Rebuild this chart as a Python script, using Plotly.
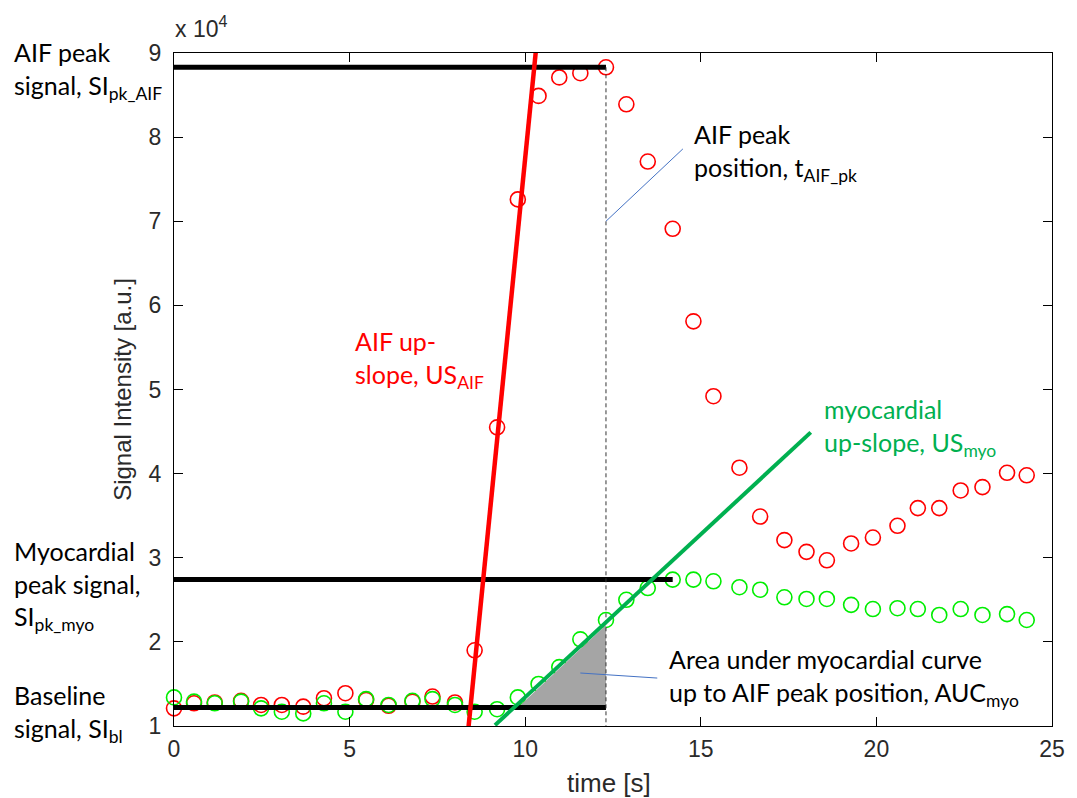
import plotly.graph_objects as go

# Acquisition times [s]
time_s = [0.0, 0.57, 1.16, 1.91, 2.48, 3.07, 3.68, 4.27, 4.88, 5.47,
          6.11, 6.79, 7.36, 8.0, 8.56, 9.2, 9.79, 10.38, 10.97, 11.57,
          12.3, 12.88, 13.49, 14.2, 14.79, 15.36, 16.1, 16.69, 17.38, 18.01,
          18.59, 19.28, 19.9, 20.6, 21.18, 21.79, 22.4, 23.02, 23.72, 24.28]

# Signal intensity, in units of 10^4 [a.u.]
aif_si = [1.21, 1.27, 1.28, 1.30, 1.25, 1.25, 1.23, 1.33, 1.39, 1.31,
          1.24, 1.29, 1.35, 1.28, 1.90, 4.55, 7.26, 8.49, 8.71, 8.76,
          8.83, 8.39, 7.71, 6.91, 5.81, 4.92, 4.07, 3.49, 3.21, 3.07,
          2.97, 3.17, 3.24, 3.38, 3.59, 3.59, 3.80, 3.84, 4.01, 3.98]
myo_si = [1.34, 1.29, 1.27, 1.29, 1.21, 1.17, 1.15, 1.27, 1.17, 1.32,
          1.25, 1.30, 1.32, 1.25, 1.17, 1.20, 1.34, 1.50, 1.70, 2.03,
          2.26, 2.50, 2.64, 2.74, 2.74, 2.72, 2.65, 2.62, 2.53, 2.51,
          2.51, 2.44, 2.39, 2.40, 2.39, 2.32, 2.39, 2.32, 2.33, 2.26]

# Derived perfusion parameters
baseline_si = 1.22
i_pk_aif = aif_si.index(max(aif_si))
i_pk_myo = myo_si.index(max(myo_si))
t_pk_aif = time_s[i_pk_aif]
si_pk_aif = aif_si[i_pk_aif]
t_pk_myo = time_s[i_pk_myo]
si_pk_myo = myo_si[i_pk_myo]

# Fitted up-slope lines (end points)
us_aif_t = [8.37, 10.30]
us_aif_si = [0.92, 9.01]
us_myo_t = [9.14, 18.13]
us_myo_si = [1.01, 4.49]

# Area under the myocardial curve up to the AIF peak
auc_t = [9.79, 12.3, 12.3]
auc_si = [1.22, 2.20, 1.22]

# Leader lines of the callouts
lead_tpk_t = [12.3, 14.49]
lead_tpk_si = [7.0, 7.86]
lead_auc_t = [11.57, 13.76]
lead_auc_si = [1.63, 1.57]

x_ticks = [0, 5, 10, 15, 20, 25]
y_ticks = [1, 2, 3, 4, 5, 6, 7, 8, 9]

W, H = 1077, 798
LEFT, RIGHT, TOP, BOTTOM = 174, 1058, 53, 726

RED = "#FF0000"
GREEN_MK = "#00EE00"
GREEN_LN = "#00B050"
BLUE = "#4472C4"
LABEL_FONT = "Lato"
LABEL_SIZE = 25
AXIS_FONT = "Liberation Sans"
AXIS_GREY = "#2a2a2a"


def px(x):
    # page pixel column -> paper fraction of the plot area
    return (x - LEFT) / (RIGHT - LEFT)


def py(y):
    # page pixel row -> paper fraction of the plot area
    return (BOTTOM - y) / (BOTTOM - TOP)


fig = go.Figure()

fig.add_trace(go.Scatter(
    x=time_s, y=aif_si, mode="markers", cliponaxis=False,
    marker=dict(symbol="circle-open", size=15, color=RED, line=dict(width=1.6, color=RED)),
    name="AIF", hoverinfo="skip"))
fig.add_trace(go.Scatter(
    x=time_s, y=myo_si, mode="markers", cliponaxis=False,
    marker=dict(symbol="circle-open", size=15, color=GREEN_MK, line=dict(width=1.6, color=GREEN_MK)),
    name="myocardium", hoverinfo="skip"))

# AUC shading
fig.add_trace(go.Scatter(
    x=auc_t, y=auc_si, mode="lines", fill="toself", fillcolor="#A5A5A5",
    line=dict(width=0, color="#A5A5A5"), hoverinfo="skip"))

# Peak and baseline levels
fig.add_trace(go.Scatter(x=[0, t_pk_aif], y=[si_pk_aif, si_pk_aif], mode="lines",
                         line=dict(color="black", width=5), hoverinfo="skip"))
fig.add_trace(go.Scatter(x=[0, t_pk_myo], y=[si_pk_myo, si_pk_myo], mode="lines",
                         line=dict(color="black", width=5), hoverinfo="skip"))
fig.add_trace(go.Scatter(x=[0, t_pk_aif], y=[baseline_si, baseline_si], mode="lines",
                         line=dict(color="black", width=5), hoverinfo="skip"))
# AIF peak position
fig.add_trace(go.Scatter(x=[t_pk_aif, t_pk_aif], y=[si_pk_aif, 1], mode="lines",
                         line=dict(color="#333333", width=1, dash="4px,3px"), hoverinfo="skip"))

# Up-slopes
fig.add_trace(go.Scatter(x=us_aif_t, y=us_aif_si, mode="lines",
                         line=dict(color=RED, width=4.5), hoverinfo="skip"))
fig.add_trace(go.Scatter(x=us_myo_t, y=us_myo_si, mode="lines",
                         line=dict(color=GREEN_LN, width=4), hoverinfo="skip"))

# Callout leaders
fig.add_trace(go.Scatter(x=lead_tpk_t, y=lead_tpk_si, mode="lines",
                         line=dict(color=BLUE, width=1), hoverinfo="skip"))
fig.add_trace(go.Scatter(x=lead_auc_t, y=lead_auc_si, mode="lines",
                         line=dict(color=BLUE, width=1), hoverinfo="skip"))

axis_common = dict(
    showgrid=False, zeroline=False, showline=True, linecolor="#000000", linewidth=1.3,
    mirror="ticks", ticks="inside", ticklen=9, tickwidth=1.3, tickcolor="#000000",
    tickfont=dict(family=AXIS_FONT, size=23, color=AXIS_GREY),
)
fig.update_xaxes(range=[0, 25], tickvals=x_ticks, ticklabelstandoff=2, **axis_common)
fig.update_yaxes(range=[1, 9], tickvals=y_ticks, ticklabelstandoff=7, **axis_common)

# Callout texts: (text, left px, cap-top px, colour)
notes = [
    ("AIF peak<br>signal, SI<sub>pk_AIF</sub>", 13, 46, "black"),
    ("Myocardial<br>peak signal,<br>SI<sub>pk_myo</sub>", 13, 545, "black"),
    ("Baseline<br>signal, SI<sub>bl</sub>", 13, 689, "black"),
    ("AIF up-<br>slope, US<sub>AIF</sub>", 356, 335, RED),
    ("AIF peak<br>position, t<sub>AIF_pk</sub>", 698, 128, "black"),
    ("myocardial<br>up-slope, US<sub>myo</sub>", 828, 403, GREEN_LN),
    ("Area under myocardial curve<br>up to AIF peak position, AUC<sub>myo</sub>", 672, 653, "black"),
]
cap_offset = 0.45 * LABEL_SIZE
annotations = []
for text, x0, y0, col in notes:
    annotations.append(dict(
        text=text, x=px(x0 - 2), y=py(y0 - cap_offset), xref="paper", yref="paper",
        xanchor="left", yanchor="top", align="left", showarrow=False,
        font=dict(family=LABEL_FONT, size=LABEL_SIZE, color=col)))

# Axis titles and exponent
annotations.append(dict(text="time [s]", x=px(612), y=py(783),
                        xref="paper", yref="paper", xanchor="center", yanchor="middle",
                        showarrow=False, font=dict(family=AXIS_FONT, size=26, color=AXIS_GREY)))
annotations.append(dict(text="Signal Intensity [a.u.]", x=px(122), y=py((TOP + BOTTOM) / 2),
                        xref="paper", yref="paper", xanchor="center", yanchor="middle",
                        textangle=-90, showarrow=False,
                        font=dict(family=AXIS_FONT, size=24, color=AXIS_GREY)))
annotations.append(dict(text="x 10<sup>4</sup>", x=px(173), y=py(44),
                        xref="paper", yref="paper", xanchor="left", yanchor="bottom",
                        showarrow=False, font=dict(family=AXIS_FONT, size=23, color=AXIS_GREY)))

fig.update_layout(
    width=W, height=H,
    margin=dict(l=LEFT, r=W - RIGHT, t=TOP, b=H - BOTTOM, pad=0),
    paper_bgcolor="white", plot_bgcolor="white",
    showlegend=False,
    annotations=annotations,
)

fig.write_html("out.html")
